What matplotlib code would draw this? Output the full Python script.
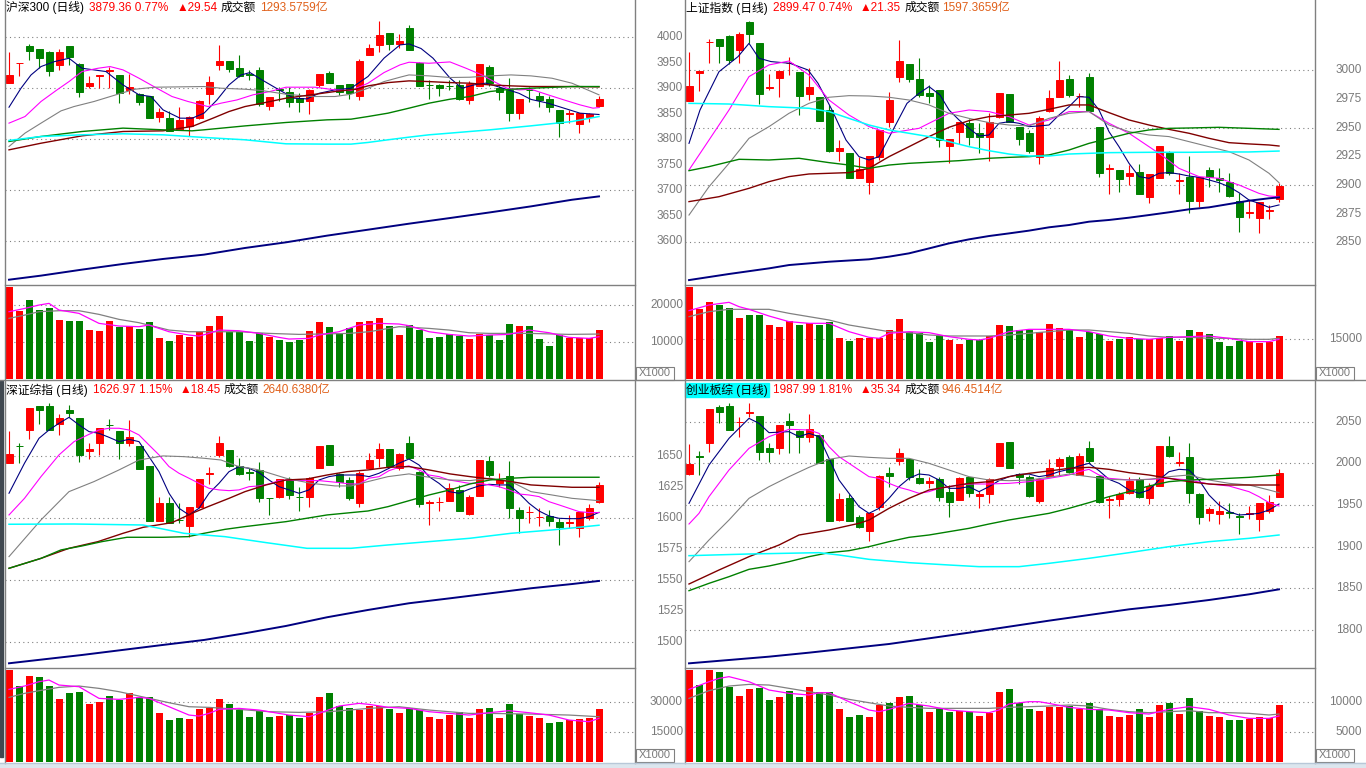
import matplotlib
matplotlib.use("Agg")
import matplotlib.pyplot as plt
from matplotlib.lines import Line2D
from matplotlib.patches import Rectangle
from matplotlib.transforms import blended_transform_factory
import numpy as np

plt.rcParams['font.family'] = ['Liberation Sans', 'Noto Sans CJK SC', 'DejaVu Sans']

W, H = 1366, 768
RED = "#ff0000"
GREEN = "#008000"
NAVY = "#000080"
MAGENTA = "#ff00ff"
GRAY = "#808080"
BROWN = "#800000"
CYAN = "#00ffff"
AXIS_COL = "#7a7a7a"
AMOUNT_COL = "#e0601a"

# ---------------- 沪深300 (top left) ----------------
hs_open = [3911,3949,3983,3977,3971,3946,3983,3947,3905,3924,3934,3925,3897,3888,3885,3844,3841,3818,3825,3841,
           3888,3946,3954,3939,3928,3936,3865,3898,3893,3880,3874,3907,3929,3906,3908,3885,3966,3984,4008,3986,
           4018,3949,3907,3906,3905,3907,3876,3905,3942,3900,3897,3852,3897,3885,3879,3858,3850,3830,3843,3865]
hs_high = [3972,3950,3987,3977,3974,3977,3983,3949,3924,3925,3942,3925,3928,3890,3885,3861,3856,3863,3846,3877,
           3924,3985,3954,3965,3936,3941,3882,3902,3902,3890,3898,3928,3934,3907,3908,3957,3987,4032,4008,4006,
           4025,3952,3916,3909,3916,3916,3914,3948,3946,3905,3920,3879,3902,3892,3884,3858,3857,3852,3852,3884]
hs_low = [3910,3924,3956,3939,3924,3935,3946,3882,3900,3900,3900,3871,3889,3867,3842,3833,3815,3817,3807,3840,
          3869,3936,3931,3922,3916,3865,3858,3874,3864,3854,3850,3902,3910,3887,3879,3877,3966,3972,3975,3978,
          3975,3905,3879,3884,3897,3877,3869,3905,3905,3877,3835,3840,3872,3864,3854,3805,3831,3813,3833,3864]
hs_close = [3925,3950,3974,3960,3933,3972,3961,3893,3910,3925,3935,3891,3902,3872,3842,3854,3815,3837,3843,3875,
            3912,3954,3938,3924,3926,3869,3882,3897,3873,3873,3897,3928,3911,3893,3891,3954,3978,4005,3987,3993,
            3975,3905,3906,3901,3904,3878,3908,3948,3910,3893,3852,3879,3896,3877,3864,3831,3851,3851,3850,3879.36]
hs_vol = [24870,18380,21260,18560,19100,15860,15590,15590,13150,12880,15590,13970,14240,13420,15320,10990,10180,11800,11260,12610,
          14240,16940,12610,12610,10180,12340,11260,10450,9910,10450,12880,15320,13970,12340,13600,15320,15590,16400,14240,11800,
          14420,13150,10990,11260,12070,11530,10720,12070,11800,10450,14780,14240,14240,10720,8830,11800,10990,10990,10990,13150]

hs_ma5_x = [0,1.2,2.2,3.2,4.5,6,7.3,9.7,11.4,13,14.2,15.4,17.1,18.3,19.5,20.8,22,23.2,24.1,25.3,26.9,28.5,29.8,31,
            32.6,34.2,35.9,37.5,39.1,40,41.2,42.4,44.1,45.3,46.5,47.7,49.4,51,52.2,53.9,55.5,57.1,59]
hs_ma5_y = [3862.7,3900,3926,3942.5,3952,3958.8,3939.2,3932.7,3906.5,3887,3883.7,3857.5,3841.2,3841,3851,3877,3906.5,3926,
            3930.7,3916.3,3898,3880.4,3879,3890,3896.7,3900,3923,3959,3985,3987,3978,3959,3920,3900,3906.5,3910,3900,3890,
            3878,3870.6,3860.8,3851,3848.4]
hs_ma10_x = [0,1.6,3.2,4.8,6,7.3,8.9,10.1,11.4,13,14.6,16.3,17.9,19.9,21.2,22.8,24.4,26.1,27.7,29.3,30.6,32.6,34.2,35.9,
             37.5,39.1,40,42,44.1,45.7,47.3,48.5,49.8,51,52.2,53.9,55.5,57.1,58.4,59]
hs_ma10_y = [3831.4,3844.4,3873.9,3896.7,3913,3932.7,3939.2,3942.5,3936,3919.6,3902,3883.7,3873.9,3864,3870.6,3877,3887,
             3893.5,3902,3902,3902,3896.7,3895.4,3909.8,3930.7,3945.8,3951,3949,3951.6,3939.2,3926,3913,3900,3896.7,3898,
             3887,3877,3867.3,3860.8,3862]
hs_ma20_x = [0,1.6,3.2,5.2,6.5,8.5,11,12.6,14.6,19.5,21.2,23.6,25.3,27.7,30.2,32.6,34.2,35.9,37.5,39.1,40,42,44.1,46.1,
             48.1,50.2,52.2,54.3,56.3,59]
hs_ma20_y = [3785.6,3811.8,3831.4,3855.5,3864,3873.9,3888.9,3898,3902,3903.3,3900,3898,3895.4,3888.2,3883.7,3883.7,3888.2,
             3900,3913,3921.6,3926.1,3924.2,3921,3921.6,3924.2,3926.1,3924.2,3919.6,3909.8,3887]
hs_ma30_x = [0,3.2,7.3,11.4,15.4,18.3,20.4,22,23.6,25.3,27.7,30.2,32.6,34.7,35.9,37.9,40,42,44.1,46.1,48.1,50.2,52.2,56.3,59]
hs_ma30_y = [3779,3792,3806.5,3815,3816.3,3824.8,3841.2,3854.2,3864,3870.6,3880.4,3887,3893.5,3898,3904.6,3911,3914.4,3913,
             3911,3909.8,3906.5,3904.6,3903.3,3903.3,3902.6]
hs_ma60_x = [0,3.2,7.3,11.4,15.4,18.3,19.5,23.6,27.7,31.8,34.2,35.9,37.9,40,42,44.1,46.1,48.1,50.2,52.2,56.3,59]
hs_ma60_y = [3795.4,3805.2,3815,3821.6,3818.3,3816.3,3818.3,3826,3832.7,3837.9,3839.2,3844.4,3851,3860.8,3870.6,3878.4,
             3883.7,3893.5,3898,3900,3903.3,3903.3]
hs_ma120_x = [0,3.2,7.3,11.4,15.4,19.5,23.6,27.7,31.8,34.2,35.9,37.9,40,42,44.1,48.1,52.2,56.3,59]
hs_ma120_y = [3797.4,3805.2,3808.5,3810.5,3808.5,3803.3,3798.7,3790.8,3790.2,3790.2,3793.5,3798.7,3803.9,3808.5,3811.8,
              3818.3,3826.1,3834.6,3844.4]
hs_ma250_x = [0,3.2,7.3,11.4,15.4,19.5,23.6,27.7,31.8,35.9,40,44.1,48.1,52.2,56.3,59]
hs_ma250_y = [3524,3532,3543.8,3554.9,3564.7,3573.2,3586.3,3597.4,3610.5,3622.2,3634,3645.1,3656.2,3668,3681,3687.6]
hs_vma5_x = [0,1.6,3,4,5,7,9,11,13,14,16,18,19,20,21,23,25,27,28,30,31,33,35,37,39,40,42,44,46,48,50,52,54,56,58,59]
hs_vma5_y = [18110,19010,19910,20360,18560,17660,14960,14240,14060,14510,12700,11800,11530,12250,13150,12970,12250,11170,
             10720,10900,11800,12700,14510,14960,14780,14330,12700,11980,11530,11800,11980,13150,12430,11170,10900,11350]
hs_vma10_x = [0,1.6,3,5,7,9,11,13,16,18,21,23,26,29,31,34,36,39,42,44,46,48,52,56,59]
hs_vma10_y = [16310,17210,18110,18380,18380,17390,16040,15140,13150,12700,12700,12700,12250,11980,12070,12250,12700,14060,
              13600,13150,12430,12250,12250,11980,12070]

# ---------------- 上证指数 (top right) ----------------
sh_open = [2973.5,2997.4,3024.5,3027.0,3029.9,3017.7,3042.2,3023.5,2985.0,2993.6,3006.1,2998.3,2979.7,2977.0,2965.4,2929.9,
           2927.9,2906.4,2902.9,2924.7,2955.2,2994.5,3005.5,2992.2,2979.9,2982.8,2934.3,2946.5,2953.8,2945.1,2941.6,2959.0,
           2979.4,2950.3,2945.6,2924.7,2964.8,2977.0,2992.4,2977.6,2993.9,2950.3,2913.7,2913.1,2908.1,2911.0,2889.8,2906.4,
           2928.2,2903.5,2907.3,2886.3,2913.1,2905.8,2902.9,2886.3,2875.6,2870.9,2877.6,2887.5]
sh_high = [3016.3,2999.4,3027.0,3027.0,3030.8,3033.4,3043.0,3023.5,2996.8,2999.4,3011.3,2998.3,3001.7,2977.0,2969.8,2939.2,
           2927.9,2924.7,2925.3,2948.0,2981.4,3026.5,3005.5,3010.5,2987.2,2982.8,2939.8,2954.7,2957.3,2953.8,2962.5,2979.9,
           2979.4,2950.3,2948.0,2960.2,2982.8,3008.1,2995.9,2979.9,2998.0,2950.3,2918.3,2913.1,2917.4,2918.3,2909.6,2934.0,
           2929.9,2910.2,2925.3,2906.7,2916.0,2915.1,2910.2,2893.3,2886.9,2885.5,2882.6,2901.5]
sh_low = [2973.5,2982.3,3006.1,3006.1,3005.5,3006.1,3023.5,2970.6,2982.8,2976.5,2995.9,2961.0,2974.1,2956.1,2929.1,2921.2,
          2905.8,2906.4,2892.1,2921.8,2950.9,2990.1,2990.1,2977.0,2971.2,2933.4,2918.9,2935.8,2934.9,2927.6,2921.2,2958.1,
          2955.2,2934.9,2927.6,2918.0,2964.0,2977.0,2976.5,2968.3,2964.8,2907.3,2892.1,2894.2,2900.0,2891.9,2884.6,2906.4,
          2908.7,2892.1,2875.3,2881.1,2898.5,2894.2,2889.8,2859.3,2870.9,2858.4,2870.1,2885.5]
sh_close = [2986.3,2999.4,3024.7,3021.5,3009.0,3031.7,3031.4,2979.1,2985.2,2999.4,3006.7,2977.6,2985.2,2956.1,2929.6,2932.3,
            2905.8,2913.9,2925.3,2948.0,2974.1,3008.1,2992.2,2978.5,2977.9,2939.2,2939.8,2954.7,2942.2,2941.6,2954.7,2979.9,
            2955.2,2939.8,2929.9,2958.1,2975.6,2991.6,2978.5,2977.9,2964.8,2910.8,2914.5,2905.2,2910.2,2891.9,2909.6,2934.0,
            2910.8,2904.4,2886.3,2906.7,2907.3,2904.4,2890.4,2872.4,2876.5,2885.5,2878.2,2899.47]
sh_vol = [34920,26340,29120,27980,26720,23190,24200,24200,20420,19790,22060,20420,21050,20420,21680,15380,14370,15380,15380,15630,
          18530,22560,17900,17270,13990,16640,14750,13360,14750,14750,16260,20420,20040,18530,18530,17900,20920,19160,18530,16010,
          17900,17020,14370,15130,15760,15130,15000,15380,16260,14370,18530,17650,17020,14120,12480,14500,14370,13490,14120,16260]

sh_ma5_x = [0,1.1,3,4.9,6,7,8.2,10.1,11.9,12.9,14.3,15.7,17,18,19,20.4,21.8,23,24,25.1] + list(range(26, 60))
sh_ma5_y = [2936.3,2965.4,2998.8,3011.9,3023.5,3010.5,3007.6,3006.1,3000.3,2988.7,2965.4,2939.2,2924.7,2921.8,2924.7,
            2948.0,2971.2,2979.9,2985.8,2978.5,2965.4,2956.7,2949.4,2942.7,2943.6,2953.8,2955.2,2953.8,2950.9,2951.5,
            2952.3,2961.0,2968.3,2977.0,2976.5,2965.4,2946.5,2933.4,2918.9,2907.3,2905.8,2910.2,2910.8,2909.6,2907.8,
            2906.7,2904.4,2902.0,2898.5,2893.3,2886.9,2884.0,2880.5,2882.6]
sh_ma10_x = [0,2,4,6,8,10,12,14,16,18,20,22,23,24,26,28,30,32,34,36,38,40,42,44,46,47,49,51,53,55,57,58,59]
sh_ma10_y = [2913.1,2939.2,2965.4,2994.5,3004.7,3008.1,2995.9,2974.1,2961.0,2950.9,2945.1,2948.0,2949.4,2953.8,2962.5,
             2965.4,2964.0,2959.6,2952.3,2956.7,2964.0,2964.0,2953.8,2945.1,2933.4,2927.6,2914.5,2907.3,2905.8,2900.0,
             2892.7,2890.4,2889.8]
sh_ma20_x = list(range(0, 60, 2)) + [59]
sh_ma20_y = [2873.8,2898.5,2918.9,2940.7,2950.9,2962.5,2971.2,2976.5,2977.9,2977.6,2976.5,2974.1,2969.8,2962.5,2958.1,
             2954.4,2952.3,2951.5,2958.1,2962.5,2964.0,2952.3,2946.5,2943.6,2942.2,2937.8,2933.4,2929.1,2921.8,2910.2,2902.0]
sh_ma30_x = [0,3,6] + list(range(8, 60, 2)) + [59]
sh_ma30_y = [2885.5,2889.8,2897.1,2902.9,2907.3,2909.6,2910.2,2910.8,2914.5,2924.7,2933.4,2942.2,2950.3,2956.1,2959.6,
             2961.0,2962.5,2966.0,2969.8,2969.8,2963.1,2956.7,2952.3,2948.5,2945.1,2940.7,2936.9,2935.8,2934.9,2934.0]
sh_ma60_x = [0,2,5,8,11,14,16,18,20,22,24,27,30,32,34,36,38,40,42,44,46,48,50,53,56,59]
sh_ma60_y = [2912.5,2916.0,2922.4,2921.8,2923.3,2919.5,2917.4,2914.5,2917.4,2918.9,2919.8,2921.2,2923.3,2924.1,2924.7,
             2926.2,2930.5,2936.3,2940.7,2945.1,2948.0,2949.4,2949.7,2950.3,2949.4,2948.5]
sh_ma120_x = [0,4,8,12,14,16,18,20,22,24,26,28,30,32,34,36,38,40,42,46,50,53,56,59]
sh_ma120_y = [2971.2,2970.6,2968.3,2966.9,2964.0,2958.1,2952.3,2948.0,2945.1,2942.2,2937.8,2933.4,2929.9,2927.0,2925.3,
              2925.3,2927.0,2927.6,2928.2,2928.5,2928.5,2928.8,2928.8,2929.6]
sh_ma250_x = [0,4,8,10,14,18] + list(range(20, 60, 2)) + [59]
sh_ma250_y = [2817.1,2822.4,2827.3,2830.2,2833.1,2835.2,2837.5,2840.4,2844.7,2849.1,2852.6,2855.5,2857.8,2860.2,2863.1,
              2865.1,2868.0,2869.5,2871.5,2873.8,2876.2,2878.8,2880.5,2883.4,2886.3,2888.4,2889.2]
sh_vma5_x = [0,2,4,5,6,8,10,12,14,16,18,19,20,22,24,26,28,29,30,32,34,36,38,40,42,44,46,48,50,52,54,56,58,59]
sh_vma5_y = [25840,27980,28990,27350,26340,23820,21680,21050,21050,17900,15760,15380,17270,17900,17520,16010,15000,14750,
             15380,17900,18780,18780,18780,17900,16260,15380,15000,15760,16010,16260,15380,14120,14120,15000]
sh_vma10_x = [0,2,4] + list(range(8, 60, 2)) + [59]
sh_vma10_y = [23570,25460,26340,26340,24830,23570,22310,20420,19160,17900,17520,16640,16260,16260,16260,16640,17270,17900,
              18530,18530,17900,17270,16260,15760,15760,15380,15380,15000,15000,15380]

# ---------------- 深证综指 (bottom left) ----------------
sz_open = [1644.9,1658.6,1671.2,1690.6,1690.6,1676.1,1687.4,1680.9,1654.6,1660.5,1675.5,1670.7,1661.0,1658.3,1642.2,1598.1,
           1612.1,1598.9,1594.1,1609.4,1636.0,1651.3,1655.1,1642.2,1637.0,1638.9,1616.3,1617.5,1630.9,1617.1,1617.5,1640.9,
           1659.1,1635.5,1630.9,1612.6,1640.3,1648.9,1655.9,1640.3,1661.0,1637.6,1612.6,1613.2,1614.2,1622.9,1603.5,1618.0,
           1646.5,1628.2,1634.1,1606.7,1605.2,1601.1,1601.9,1596.8,1596.6,1592.5,1600.5,1613.4]
sz_high = [1670.7,1660.5,1689.0,1690.6,1692.7,1684.1,1691.4,1680.9,1660.5,1672.6,1679.8,1670.7,1679.3,1658.3,1642.2,1617.5,
           1617.5,1612.6,1608.9,1632.0,1641.7,1666.4,1655.1,1648.4,1640.3,1645.2,1616.3,1631.5,1633.6,1625.5,1633.6,1658.3,
           1659.1,1636.3,1633.6,1638.4,1653.0,1661.0,1655.9,1653.0,1666.4,1638.4,1614.8,1617.5,1628.2,1626.9,1618.8,1647.0,
           1650.3,1636.3,1646.2,1609.4,1610.0,1608.1,1606.7,1600.0,1602.7,1604.8,1611.6,1629.6]
sz_low = [1644.9,1644.9,1664.0,1676.1,1671.2,1667.2,1682.0,1645.7,1647.6,1651.1,1671.2,1647.8,1658.3,1639.5,1598.1,1598.1,
          1596.5,1596.5,1585.2,1608.1,1627.7,1649.2,1641.1,1634.9,1630.9,1613.4,1602.7,1616.4,1615.3,1606.2,1609.4,1640.9,
          1643.0,1625.0,1614.8,1609.4,1640.3,1641.7,1642.2,1639.0,1648.9,1609.4,1594.6,1606.2,1614.2,1606.2,1602.7,1618.0,
          1633.6,1625.5,1600.0,1587.9,1596.5,1593.8,1593.8,1578.5,1591.9,1584.7,1598.7,1612.1]
sz_close = [1651.9,1658.1,1689.0,1687.4,1671.2,1680.6,1685.2,1651.3,1655.6,1672.6,1675.3,1660.5,1665.3,1639.5,1598.1,1612.1,
            1596.5,1598.7,1608.9,1632.0,1636.3,1660.5,1642.2,1635.8,1636.8,1616.7,1616.1,1631.5,1618.8,1616.9,1632.3,1658.3,
            1643.0,1629.6,1616.7,1636.8,1647.0,1655.9,1642.2,1651.9,1648.9,1611.6,1612.9,1613.4,1624.2,1606.2,1617.0,1647.0,
            1634.9,1630.9,1608.1,1600.5,1605.4,1601.3,1598.1,1593.3,1596.8,1604.8,1608.1,1626.97]
sz_vol = [46340,38250,43300,42800,38250,31680,34710,35220,29150,30160,33190,31170,34710,32180,32690,24600,21060,22070,21570,26620,
          27130,31680,29150,26120,22580,25610,22580,23080,23590,22070,24600,32690,34710,28140,27130,26120,28140,28140,26620,24600,
          27130,26120,22580,21570,23590,25110,22070,26620,27130,22070,29150,24100,23080,22070,19550,20050,21060,21570,22070,26620]

sz_ma5_x = [0,1.55] + list(range(3, 60))
sz_ma5_y = [1620.2,1644.4,1664.5,1671.2,1676.6,1681.4,1675.3,1669.9,1668.5,1665.3,1661.8,1663.7,1661.8,1649.7,1637.6,
            1620.2,1608.1,1602.7,1608.1,1620.2,1628.2,1637.6,1641.7,1640.3,1636.8,1630.9,1625.5,1622.9,1620.2,1622.9,
            1630.9,1633.6,1634.9,1634.9,1634.9,1633.6,1636.3,1640.3,1644.4,1647.8,1643.0,1633.6,1628.2,1621.5,1620.2,
            1623.4,1626.1,1627.4,1626.9,1626.9,1620.2,1612.1,1605.9,1601.9,1600.0,1599.7,1599.7,1601.3,1604.8]
sz_ma10_x = [0,1.55,3.2,5,6.5,8,9] + list(range(10, 60))
sz_ma10_y = [1602.7,1616.1,1633.6,1651.1,1661.8,1667.7,1671.2,1672.6,1672.6,1671.2,1667.2,1659.1,1651.1,1641.7,1636.3,
             1632.3,1628.2,1624.2,1622.9,1622.3,1622.9,1625.5,1626.1,1627.7,1630.4,1630.9,1630.4,1630.4,1630.4,1629.6,
             1628.8,1627.7,1627.7,1632.3,1633.6,1638.4,1641.1,1642.2,1639.0,1634.9,1633.6,1630.9,1629.6,1628.2,1628.2,
             1626.9,1625.5,1622.9,1619.6,1618.8,1617.5,1613.4,1610.8,1608.1,1605.4,1604.6,1604.6]
sz_ma20_x = [0,3.2,6,8.5,11,13,15.4,17.5,19.5,21.2,22.8,25,27.7,30.2,32.6,34.2,35.9,37.9,40,41.6,44.1,46.1,48.1,50.2,
             52.2,54.3,56.3,59]
sz_ma20_y = [1569.1,1598.7,1621.5,1629.6,1639.0,1647.0,1650.3,1649.7,1648.4,1647.0,1642.2,1639.0,1632.3,1628.2,1626.1,
             1626.1,1629.6,1633.6,1635.8,1633.6,1630.9,1630.4,1632.3,1629.6,1621.5,1618.8,1616.1,1614.2]
sz_ma30_x = [0,3.2,6,8.9,11.4,13.4,16.3,18.3,19.9,22,23.6,25.7,27.7,29.8,31.8,33.8,35.9,37.9,40,42,44.1,46.1,48.1,50.2,
             52.2,56.3,59]
sz_ma30_y = [1559.7,1567.7,1575.8,1581.2,1587.9,1592.7,1596.5,1604.0,1609.4,1616.1,1621.5,1626.9,1630.9,1631.7,1634.9,
             1637.6,1639.0,1641.1,1641.7,1639.0,1635.8,1633.6,1631.7,1629.6,1626.9,1625.0,1625.0]
sz_ma60_x = [0,3.2,5.2,7.3,9.3,11.8,15.4,17.9,19.5,21.6,23.6,27.7,31.8,35.9,37.9,40,42,44.1,46.1,48.1,50.2,52.2,56.3,59]
sz_ma60_y = [1559.7,1567.7,1574.5,1577.7,1581.2,1584.7,1584.7,1585.2,1587.9,1591.1,1593.3,1597.3,1602.7,1605.9,1609.4,
             1614.2,1618.8,1622.9,1627.7,1630.9,1632.3,1633.1,1633.1,1633.1]
sz_ma120_x = [0,6.5,13.4,17.5,21.6,25.7,29.8,34.2,37.9,42,46.1,50.2,54.3,59]
sz_ma120_y = [1595.2,1595.4,1594.6,1587.9,1585.2,1580.4,1575.8,1575.8,1578.5,1581.2,1583.9,1587.9,1590.6,1594.4]
sz_ma250_x = [0,7.3,15.4,19.5,23.6,27.7,31.8,35.9,40,44.1,48.1,52.2,56.3,59]
sz_ma250_y = [1483.1,1489.8,1497.9,1501.9,1507.3,1513.2,1520.2,1526.1,1531.5,1535.5,1539.5,1543.6,1547.0,1549.5]
sz_vma5_x = [0,1.55,3,4,5,7,9,11,13,14,16,18,19,20,21,23,25,27,28,30,31,33,35,36,38,40,42,44,46,48,50,52,54,56,58,59]
sz_vma5_y = [36560,38250,40440,41280,38760,37910,32020,31510,32520,32020,27800,23590,23080,24430,26450,26960,26120,24430,
             23590,22750,24430,28140,29490,28980,27470,26960,25280,24430,23590,24770,25780,24770,23590,21060,20220,21910]
sz_vma10_x = [0,1.55,3,5,7,9,11,13,16,18,20,23,26,29,32,34,36,39,42,44,46,48,52,56,59]
sz_vma10_y = [32520,34540,35890,37580,38250,37070,35390,33190,29820,27800,27470,26450,25280,24940,25280,26120,26960,27800,
              26120,25280,24430,24430,24100,23590,22750]

# ---------------- 创业板综 (bottom right) ----------------
cy_open = [1987.2,2008.4,2024.8,2067.2,2068.8,2049.8,2060,2056.8,2018,2018,2050.8,2039.2,2031.2,2034,2004.8,1932,1958,1936,
           1919.2,1947.2,1988,2003.2,2004.8,1982.8,1976.8,1980.8,1965.6,1956,1983.2,1961.2,1962.8,1996.8,2025.6,1987.2,
           1983.2,1955.2,1985.2,1996.8,2007.2,1986,2018,1984.8,1956,1956.8,1964,1980.8,1958,1972.8,2020.8,2000.8,2007.2,
           1963.2,1940,1938.8,1942,1936.8,1939.2,1932.8,1942.8,1960]
cy_high = [2023.2,2014.8,2065.2,2070,2072,2056,2072.8,2056.8,2024,2046,2060,2040,2058.8,2034,2004.8,1964,1963.2,1938,1940,
           1986,1995.2,2018,2004.8,1992.8,1983.2,1983.2,1974,1984,1984,1967.2,1982.8,2024.8,2025.6,1988.8,1986,1982,2004.8,
           2008,2010,2012.8,2026.8,1986,1960.8,1966,1984,1984,1976,2020.8,2032.8,2014,2024,1964.8,1948,1955.2,1952,1940,
           1948.8,1952.8,1962,1992.8]
cy_low = [1986.4,1986.4,2014,2048,2040,2032,2055.2,2004,2002,2011.2,2012.8,2012.8,2026,2000.8,1931.2,1931.2,1931.2,1922,
          1907.2,1944,1972,1998,1980,1975.2,1970,1955.2,1936,1956,1959.2,1946,1952.8,1996.8,1994.8,1975.2,1959.2,1952.8,
          1984.8,1986,1988.8,1986,2000.8,1952,1934,1948.8,1963.2,1958,1951.2,1972.8,2007.2,1996.8,1952.8,1927.2,1931.2,
          1927.2,1934,1914.8,1933.2,1919.2,1940,1959.2]
cy_close = [1999.2,2007.6,2065.2,2062,2040,2050,2062,2014,2014,2046,2046,2031.2,2040.8,2000.8,1931.2,1957.2,1931.2,1924,
            1940,1984.8,1984.8,2012,1984,1976.8,1979.2,1960,1954,1982.8,1964,1962.8,1981.2,2024.8,1994.8,1983.2,1960.8,
            1980.8,1994,2004.8,1990,2008.8,2003.2,1954,1957.2,1963.2,1979.2,1959.2,1972.8,2020.8,2008.8,2002,1964,1935.2,
            1944.8,1942.8,1940.8,1935.6,1940,1952,1953.2,1987.99]
cy_vol = [15450,12920,15450,15110,12640,11070,12250,12420,10390,10900,11910,10900,12580,11740,11740,8880,7530,7870,7530,9550,
          9890,10900,11120,9550,8370,8880,8370,8540,8370,7700,8200,11740,12250,9890,8880,8540,9210,9210,9380,8880,
          9830,8880,7700,7530,7870,8880,7530,9550,9890,8030,10730,8540,7700,7530,7020,7020,7190,7530,7360,9550]

cy_ma5_x = [0,2,4,6,7,8] + list(range(10, 60))
cy_ma5_y = [1952,1998,2030,2054,2048,2036.8,2038,2032,2036,2032,2006,1980,1964,1948,1940,1946,1958,1972,1982,1987.2,1986,
            1980,1970,1970,1972,1966,1972,1979.2,1984,1986.8,1987.2,1984,1986,1990,1992.8,1996.8,2000,1991.2,1980.8,1976,
            1968,1964,1968,1980,1990,1992.8,1992,1980,1962,1950,1942,1938,1938.8,1940,1944,1951.2]
cy_ma10_x = [0,1,2,4,6,8,10,12,13,14,15,16,17,18,19,20,21,22,23,24,25,26,27,28,30,32,34,36,38,39,40,41,42,44,46,48,50,
             52,54,56,57,58,59]
cy_ma10_y = [1927.2,1940,1960,1992,2018,2032,2040.8,2040,2036,2020,2008,2000,1992,1984,1982,1976,1971.2,1968,1964,1966,
             1970,1972,1974,1975.2,1975.2,1976,1978,1982,1986,1990,1992.8,1986,1982,1980,1980.8,1982,1980,1975.2,1972.8,
             1966,1960,1952.8,1948.8]
cy_ma20_x = list(range(0, 60, 2)) + [59]
cy_ma20_y = [1882,1908,1932,1958,1972,1984,1995.2,2004.8,2008.8,2007.2,2006,2006,2000,1992,1984,1980,1979.2,1980,1983.2,
             1987.2,1984,1980.8,1980,1980.8,1984,1986,1980,1976,1974,1968,1964.8]
cy_ma30_x = [0,3,6,9,11,14,17,18] + list(range(20, 58, 2)) + [59]
cy_ma30_y = [1855.2,1872,1888,1902,1914,1920,1928,1932,1946,1958,1968,1972,1976,1978,1984,1988,1990.8,1994,1995.2,1992.8,
             1988.8,1986,1982,1978,1975.2,1974,1974,1974]
cy_ma60_x = list(range(0, 58, 2)) + [59]
cy_ma60_y = [1847.2,1856,1864,1872.8,1876.8,1882,1888,1892.8,1895.2,1900,1906,1911.2,1914,1918,1922,1927.2,1932,1936,1940,
             1946,1952.8,1960,1966,1972.8,1978,1980,1980.8,1982,1983.2,1986]
cy_ma120_x = [0,6,13,15,18,22,26,29,33,36,40,44,48,52,56,59]
cy_ma120_y = [1889.2,1891.2,1892.8,1890,1884.8,1880.8,1878,1876,1876,1880,1886,1892.8,1900,1906,1910,1914]
cy_ma250_x = list(range(0, 60, 4)) + [59]
cy_ma250_y = [1760,1764,1768,1772.8,1778,1783.2,1790,1796.8,1804,1811.2,1818,1824.8,1830,1836,1842.8,1848.8]
cy_vma5_x = [0,2,3,4,6,8,10,12,13,14,16,18,19,20,22,24,26,28,30,31,32,34,35,36,38,40,42,44,46,48,50,52,54,56,58,59]
cy_vma5_y = [12190,13480,14040,14330,13480,12080,11520,11240,11630,11630,10110,8710,8430,8820,9830,9380,8710,8430,8260,
             8710,9720,10110,10110,9830,9160,8820,8710,8260,8030,8820,9270,8820,7870,7300,7300,7700]
cy_vma10_x = list(range(0, 60, 2)) + [59]
cy_vma10_y = [10670,11970,12750,13030,12920,12360,11800,11240,10510,9940,9380,9160,8990,8990,8990,8990,9160,9270,9380,9550,
              9380,8820,8430,8260,8430,8600,8260,8260,8150,7870,8030]

# axis labels
hs_labels = [4000, 3950, 3900, 3850, 3800, 3750, 3700, 3650, 3600]
hs_grid = [4000, 3900, 3800, 3700, 3600]
hs_vlabels = [20000, 10000]
sh_labels = [3000, 2975, 2950, 2925, 2900, 2875, 2850]
sh_grid = [3000, 2950, 2900, 2850]
sh_vlabels = [15000]
sz_labels = [1650, 1625, 1600, 1575, 1550, 1525, 1500]
sz_grid = [1650, 1600, 1550, 1500]
sz_vlabels = [30000, 15000]
cy_labels = [2050, 2000, 1950, 1900, 1850, 1800]
cy_grid = [2050, 2000, 1950, 1900, 1850, 1800]
cy_vlabels = [10000, 5000]

fig = plt.figure(figsize=(W / 100, H / 100), dpi=100)
fig.patch.set_facecolor("white")


def px_axes(x0, y0, x1, y1):
    ax = fig.add_axes([x0 / W, 1 - y1 / H, (x1 - x0) / W, (y1 - y0) / H])
    for s in ax.spines.values():
        s.set_visible(False)
    ax.set_xticks([])
    ax.set_yticks([])
    ax.set_xlim(-0.4, 62.5)
    return ax


def fig_line(x0, y0, x1, y1, color=GRAY, lw=1.0):
    fig.add_artist(Line2D([x0 / W, x1 / W], [1 - y0 / H, 1 - y1 / H], color=color, lw=lw,
                          transform=fig.transFigure))


def axis_labels(ax, values, label_x, grid_vals):
    tr = blended_transform_factory(fig.transFigure, ax.transData)
    for v in values:
        ax.text(label_x / W, v, str(v), transform=tr, ha="right", va="center",
                fontsize=8.5, color=AXIS_COL)
    for v in grid_vals:
        ax.axhline(v, color=GRAY, lw=0.8, ls=(0, (1, 3)), zorder=0)


def panel(x0, x1, y0, ysplit, y1, o, h, l, c, vol, mas, vmas, ylim, vlim,
          labels, grid, vlabels, label_x):
    ax = px_axes(x0, y0, x1, ysplit)
    ax.set_ylim(*ylim)
    o = np.array(o); c = np.array(c)
    x = np.arange(len(o))
    cols = np.where(c >= o, RED, GREEN)
    ax.vlines(x, l, h, colors=cols, lw=0.8, zorder=2)
    ax.bar(x, np.abs(c - o), bottom=np.minimum(o, c), width=0.7, color=cols,
           edgecolor=cols, lw=0.7, zorder=2)
    for mx, my, col, lw in mas:
        ax.plot(mx, my, color=col, lw=lw, zorder=3)
    axis_labels(ax, labels, label_x, grid)

    vx = px_axes(x0, ysplit, x1, y1)
    vx.set_ylim(*vlim)
    vx.bar(x, vol, width=0.7, color=cols, zorder=2)
    for mx, my, col in vmas:
        vx.plot(mx, my, color=col, lw=0.9, zorder=3)
    axis_labels(vx, vlabels, label_x, vlabels)
    return ax, vx


def ma_set(p):
    g = globals()
    return [(g[p + "_ma5_x"], g[p + "_ma5_y"], NAVY, 0.8),
            (g[p + "_ma10_x"], g[p + "_ma10_y"], MAGENTA, 0.8),
            (g[p + "_ma20_x"], g[p + "_ma20_y"], GRAY, 0.8),
            (g[p + "_ma30_x"], g[p + "_ma30_y"], BROWN, 1.0),
            (g[p + "_ma60_x"], g[p + "_ma60_y"], GREEN, 1.0),
            (g[p + "_ma120_x"], g[p + "_ma120_y"], CYAN, 1.1),
            (g[p + "_ma250_x"], g[p + "_ma250_y"], NAVY, 1.4)]


def vma_set(p):
    g = globals()
    return [(g[p + "_vma10_x"], g[p + "_vma10_y"], GRAY),
            (g[p + "_vma5_x"], g[p + "_vma5_y"], MAGENTA)]


panel(5, 634, 0, 285, 380, hs_open, hs_high, hs_low, hs_close, hs_vol, ma_set("hs"), vma_set("hs"),
      (3513.6, 4073.2), (-350, 25330), hs_labels, hs_grid, hs_vlabels, 683)
panel(685, 1314, 0, 285, 380, sh_open, sh_high, sh_low, sh_close, sh_vol, ma_set("sh"), vma_set("sh"),
      (2812.8, 3061.3), (-378, 35540), sh_labels, sh_grid, sh_vlabels, 1362)
panel(5, 634, 381, 668, 763, sz_open, sz_high, sz_low, sz_close, sz_vol, ma_set("sz"), vma_set("sz"),
      (1479.3, 1710.7), (-650, 47370), sz_labels, sz_grid, sz_vlabels, 683)
panel(685, 1314, 381, 668, 763, cy_open, cy_high, cy_low, cy_close, cy_vol, ma_set("cy"), vma_set("cy"),
      (1754.4, 2098.8), (-220, 15790), cy_labels, cy_grid, cy_vlabels, 1362)

# frame lines
for xv in (5, 634.5, 685, 1314.5):
    fig_line(xv, 0, xv, 763)
for yv in (285, 668):
    fig_line(5, yv, 634.5, yv)
    fig_line(685, yv, 1314.5, yv)
fig_line(0, 380.5, W, 380.5)
fig_line(0, 763, W, 763, color="#b8c8d8")
fig.add_artist(Rectangle((0, 0), 1, 5 / H, transform=fig.transFigure, color="#dce6ee", zorder=0))
fig.add_artist(Rectangle((0, 1 - 757 / H), 2.5 / W, 376 / H, transform=fig.transFigure, color="#404850"))

# X1000 boxes
for bx, by in ((636, 367), (1316, 367), (636, 749), (1316, 749)):
    fig.add_artist(Rectangle((bx / W, 1 - (by + 13) / H), 38 / W, 13 / H, transform=fig.transFigure,
                             facecolor="white", edgecolor=GRAY, lw=0.8))
    fig.text((bx + 19) / W, 1 - (by + 6.5) / H, "X1000", ha="center", va="center", fontsize=8, color=AXIS_COL)


# titles
def title(y, parts):
    for xp, s, col in parts:
        fig.text(xp / W, 1 - y / H, s, color=col, fontsize=8.5, ha="left", va="center")


fig.add_artist(Rectangle((685 / W, 1 - 397 / H), 84 / W, 14 / H, transform=fig.transFigure, color=CYAN))
title(8, [(6, "沪深300 (日线)", "black"), (89, "3879.36 0.77%", RED), (177, "▲29.54", RED),
          (221, "成交额", "black"), (260, "1293.5759亿", AMOUNT_COL)])
title(8, [(686, "上证指数 (日线)", "black"), (773, "2899.47 0.74%", RED), (860, "▲21.35", RED),
          (905, "成交额", "black"), (942, "1597.3659亿", AMOUNT_COL)])
title(390, [(6, "深证综指 (日线)", "black"), (93, "1626.97 1.15%", RED), (180, "▲18.45", RED),
            (224, "成交额", "black"), (262, "2640.6380亿", AMOUNT_COL)])
title(390, [(686, "创业板综 (日线)", "black"), (773, "1987.99 1.81%", RED), (860, "▲35.34", RED),
            (905, "成交额", "black"), (942, "946.4514亿", AMOUNT_COL)])

fig.savefig("out.png", dpi=100, facecolor="white")
